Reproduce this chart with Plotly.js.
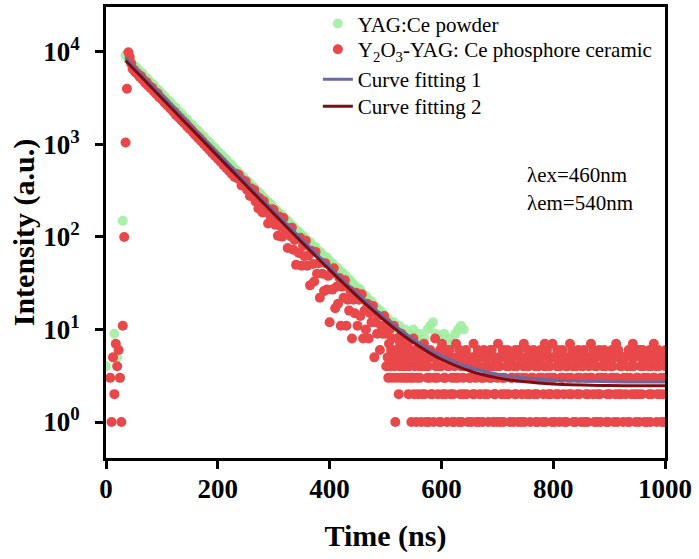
<!DOCTYPE html>
<html>
<head>
<meta charset="utf-8">
<script src="https://cdn.plot.ly/plotly-3.0.1.min.js"></script>
<style>html,body{margin:0;padding:0;background:#fff;}#chart{width:699px;height:559px;}</style>
</head>
<body>
<div id="chart"></div>
<script>
// ---- Data ----
// YAG:Ce powder decay, sampled every 5 ns from t = 0 ns
const powderStart = 0;
const powderStep = 5;
const powderCounts = [
  4, null, null, 9, 5, 3, 150, 9200, 8300,
  7900, 7100, 6800, 6200, 5900, 5350, 5100, 4650, 4450, 4030,
  3830, 3500, 3320, 3030, 2880, 2620, 2490, 2270, 2160, 1970,
  1870, 1710, 1620, 1480, 1410, 1280, 1220, 1110, 1060, 965,
  915, 840, 795, 730, 690, 635, 600, 550, 520, 480,
  450, 415, 392, 362, 342, 315, 298, 275, 258, 240,
  225, 208, 196, 182, 172, 158, 150, 138, 130, 120,
  114, 105, 100, 92, 88, 80, 78, 70, 68, 62,
  60, 55, 52, 48, 46, 42, 40, 37, 35, 32,
  30, 28, 27, 24, 23, 21, 20, 18, 17, 16,
  15, 14,
  13, 11, 12, 10, 11, 9, 10, 8, 9, 10, 8, 9, 7, 8, 10, 11, 12, 9, 8, 7, 9, 6, 8, 7, 9, 10, 11, 10, 6, 5,
  4, 3, 5, 2, 6, 3, 4, 5, 2, 3, 4, 6, 3, 2, 5, 4, 3, 5, 2, 4,
  6, 3, 4, 2, 5, 3, 4, 5, 2, 3, 6, 4, 3, 5, 2, 4, 3, 5, 4, 2,
  6, 3, 5, 4, 2, 3, 4, 5, 3, 2, 6, 4, 3, 5, 2, 4, 3, 6, 4, 2,
  5, 3, 4, 5, 2, 3, 4, 6, 3, 5
];

// Y2O3-YAG:Ce ceramic decay, rise + main decay, every 2.5 ns from t = 0 ns
const ceramicStart = 0;
const ceramicStep = 2.5;
const ceramicCounts = [
  null, null, null, 3, 1, 5, 2, 7, 4, 6, 3, 1, 11, 100, 1050, 4000, 9900,
  8800, 7500, 6600, 6400, 6050, 5900, 5750, 5400, 5500, 5050, 4950, 4650, 4720, 4350,
  4280, 4050, 4100, 3780, 3700, 3520, 3560, 3250, 3200, 3080, 2980, 2820, 2790, 2640,
  2580, 2450, 2400, 2280, 2250, 2090, 2080, 1960, 1940, 1820, 1800, 1700, 1690, 1570,
  1560, 1460, 1450, 1370, 1330, 1260, 1250, 1170, 1170, 1090, 1080, 1010, 1000, 940,
  935, 870, 870, 805, 810, 750, 752, 700, 700, 650, 652, 600, 606, 560, 562, 520,
  525, 480, 488, 445,
  484, 432, 471, 413, 361, 410, 372, 397, 323, 341, 277, 334, 285, 323, 242, 273,
  203, 262, 230, 184, 243, 186, 199, 140, 197, 160, 199,
  196, 136, 165, 103, 166, 130, 101, 160, 107, 123, 76, 124, 102, 126, 73, 93,
  50, 96, 67, 98, 49, 80, 62, 91, 49, 63, 30, 71, 51, 33, 69, 40,
  52, 22, 53, 40, 26, 52, 27, 38, 12, 40, 27, 46, 17, 29, 19, 36,
  11, 29, 22, 34, 11, 21, 16, 26, 8, 21, 15, 25, 11, 21, 14, 24,
  8, 16, 10, 19, 8, 15, 12, 18, 5, 12, 9, 14, 6, 11, 9, 14
];

// Y2O3-YAG:Ce ceramic decay, background tail, every 1.25 ns from t = 500 ns
const ceramicTailStart = 500;
const ceramicTailStep = 1.25;
const ceramicTailCounts = [
  9, 4, 12, 5, 3, 7, 10, 4, 6, 8, 3, 5, 11, 4, 1, 6, 3, 8, 5, 2, 4, 7, 3, 9, 5,
  4, 6, 3, 8, 4, 5, 3, 7, 2, 4, 6, 3, 1, 5, 3, 8, 2, 4, 6, 1, 3, 5, 2, 4,
  3, 6, 1, 4, 2, 5,  7, 2, 4, 1, 5, 3,  4, 1, 3, 6, 2, 5,  2, 5, 1, 3, 8, 4,
  5, 3, 2, 4, 1, 6,  1, 4, 7, 2, 5, 3,  3, 2, 5, 1, 4, 6,  4, 6, 2, 5, 3, 1,
  2, 1, 4, 3, 7, 5,  5, 3, 1, 6, 2, 4,  1, 5, 3, 2, 4, 5,  6, 2, 4, 1, 5, 3,
  3, 4, 1, 5, 2, 7,  2, 5, 3, 1, 4, 6,  4, 1, 2, 5, 3, 5,  1, 3, 6, 2, 4, 5,
  5, 2, 1, 4, 3, 6,  3, 6, 4, 1, 5, 2,  2, 4, 1, 3, 7, 5,  4, 1, 5, 2, 3, 6,
  1, 3, 2, 5, 4, 5,  6, 2, 4, 1, 5, 3,  3, 5, 1, 4, 2, 6,  2, 4, 3, 1, 6, 5,
  5, 1, 2, 3, 4, 7,  1, 3, 5, 2, 4, 6,  4, 2, 1, 5, 3, 5,  3, 6, 2, 4, 1, 5,
  2, 1, 4, 3, 5, 6,  5, 3, 1, 2, 4, 7,  1, 4, 6, 3, 2, 5,  4, 2, 3, 1, 7, 5,
  3, 1, 5, 2, 4, 6,  2, 5, 1, 4, 3, 5,  6, 3, 2, 1, 5, 4,  1, 4, 3, 5, 2, 7,
  3, 2, 6, 4, 1, 5,  5, 1, 4, 2, 3, 6,  2, 3, 5, 1, 4, 5,  4, 6, 1, 3, 2, 5,
  1, 2, 4, 5, 3, 7,  3, 5, 2, 6, 1, 4,  5, 4, 1, 2, 3, 6,  2, 1, 3, 5, 4, 5,
  6, 3, 4, 1, 2, 5,  1, 5, 2, 4, 3, 6,  4, 3, 1, 5, 2, 7,  3, 1, 6, 2, 5, 4,
  2, 4, 5, 1, 3, 5,  5, 2, 3, 4, 1, 6,  1, 3, 4, 2, 5, 7,  4, 5, 2, 1, 3, 6,
  3, 2, 1, 6, 4, 5,  2, 6, 4, 3, 1, 5,  5, 1, 3, 4, 2, 6,  1, 4, 2, 5, 3, 7,
  3, 5, 4, 1, 2, 6,  4, 2, 5, 3, 1, 5,  2, 3, 1, 4, 6, 5
];

// Fitted curves
const fitTimes = [35, 50, 75, 100, 125, 150, 175, 200, 225, 250, 275, 300, 325, 350, 375, 400, 425, 450, 475, 500, 525, 550, 575, 600, 650, 700, 750, 800, 900, 1000];
const fit1Values = [8692, 7001, 4880, 3403, 2372, 1655, 1154, 805, 562, 393, 274.5, 192.1, 134.7, 94.7, 66.9, 47.4, 33.9, 24.4, 17.9, 13.2, 10.05, 7.83, 6.27, 5.19, 3.91, 3.29, 2.99, 2.84, 2.73, 2.71];
const fit2Values = [8085, 6512, 4539, 3165, 2206, 1539, 1073, 748, 522, 365, 255.3, 178.7, 125.3, 88.1, 62.2, 44.1, 31.5, 22.7, 16.6, 12.3, 9.29, 7.22, 5.77, 4.77, 3.58, 3.0, 2.72, 2.58, 2.48, 2.46];

const legendNames = ['YAG:Ce powder', 'Y<sub>2</sub>O<sub>3</sub>-YAG: Ce phosphore ceramic', 'Curve fitting 1', 'Curve fitting 2'];
const yTickValues = [1, 10, 100, 1000, 10000];
const yTickText = ['10<sup>0</sup>', '10<sup>1</sup>', '10<sup>2</sup>', '10<sup>3</sup>', '10<sup>4</sup>'];
const xTickValues = [0, 200, 400, 600, 800, 1000];

// ---- Styles ----
const SERIF = 'Liberation Serif, Times New Roman, serif';
const RED = 'rgb(233,72,74)';
const redMarker = {color: RED, size: 10, line: {width: 0}};
const greenMarker = {color: 'rgba(158,236,158,0.85)', size: 10, line: {width: 0}};

const traces = [
  {type: 'scatter', mode: 'markers', name: legendNames[0], x0: powderStart, dx: powderStep, y: powderCounts,
   marker: greenMarker, legend: 'legend'},
  {type: 'scatter', mode: 'markers', name: legendNames[1], x0: ceramicStart, dx: ceramicStep, y: ceramicCounts,
   marker: redMarker, legendgroup: 'ceramic', legend: 'legend2'},
  {type: 'scatter', mode: 'markers', name: legendNames[1], x0: ceramicTailStart, dx: ceramicTailStep, y: ceramicTailCounts,
   marker: redMarker, legendgroup: 'ceramic', showlegend: false, legend: 'legend2'},
  {type: 'scatter', mode: 'lines', name: legendNames[2], x: fitTimes, y: fit1Values,
   line: {color: 'rgb(108,104,160)', width: 3, shape: 'spline', smoothing: 0.8}, legend: 'legend3'},
  {type: 'scatter', mode: 'lines', name: legendNames[3], x: fitTimes, y: fit2Values,
   line: {color: 'rgb(122,14,20)', width: 3, shape: 'spline', smoothing: 0.8}, legend: 'legend4'}
];

const axisCommon = {
  showline: true, linecolor: '#000', linewidth: 3, mirror: true,
  ticks: 'outside', ticklen: 8, tickwidth: 3, tickcolor: '#000',
  showgrid: false, zeroline: false,
  tickfont: {family: SERIF, size: 27, color: '#000', weight: 'bold'}
};

function legendAt(yPaper) {
  return {
    x: 0.379, y: yPaper, xanchor: 'left', yanchor: 'middle',
    bgcolor: 'rgba(0,0,0,0)', borderwidth: 0,
    font: {family: SERIF, size: 21, color: '#000'}
  };
}

const layout = {
  width: 699, height: 559,
  margin: {l: 106, r: 34, t: 7, b: 101, autoexpand: false},
  paper_bgcolor: '#fff', plot_bgcolor: '#fff',
  showlegend: true,
  font: {family: SERIF, color: '#000'},
  xaxis: Object.assign({}, axisCommon, {
    range: [0, 1000], tickmode: 'array', tickvals: xTickValues,
    ticklabelstandoff: -3,
    title: {text: 'Time (ns)', font: {family: SERIF, size: 30, color: '#000', weight: 'bold'}, standoff: 22}
  }),
  yaxis: Object.assign({}, axisCommon, {
    type: 'log', range: [-0.389, 4.486], tickmode: 'array', tickvals: yTickValues, ticktext: yTickText,
    ticklabelstandoff: 10,
    title: {text: 'Intensity (a.u.)', font: {family: SERIF, size: 30, color: '#000', weight: 'bold'}, standoff: 0}
  }),
  legend: legendAt(0.9625),
  legend2: legendAt(0.9057),
  legend3: legendAt(0.8391),
  legend4: legendAt(0.7793),
  annotations: [
    {xref: 'paper', yref: 'paper', x: 0.7496, y: 0.6275, xanchor: 'left', yanchor: 'middle', showarrow: false,
     text: 'λex=460nm', font: {family: SERIF, size: 21, color: '#000'}},
    {xref: 'paper', yref: 'paper', x: 0.7496, y: 0.5654, xanchor: 'left', yanchor: 'middle', showarrow: false,
     text: 'λem=540nm', font: {family: SERIF, size: 21, color: '#000'}}
  ]
};

Plotly.newPlot('chart', traces, layout, {staticPlot: true, displayModeBar: false});
</script>
</body>
</html>
